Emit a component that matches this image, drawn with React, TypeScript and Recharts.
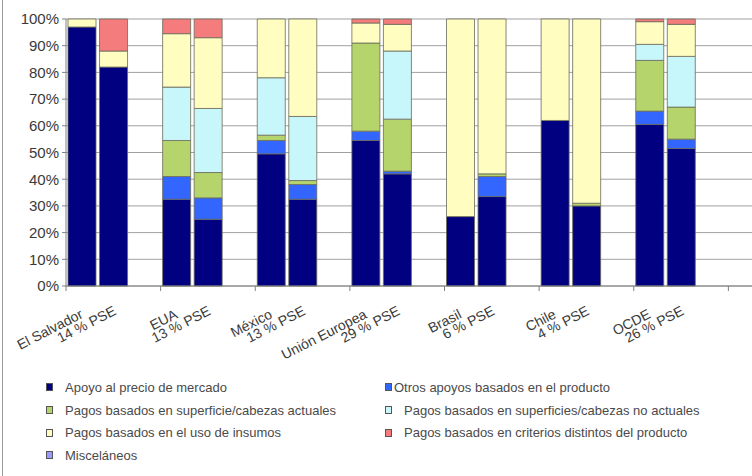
import React from 'react';
import { BarChart, Bar, XAxis, YAxis, CartesianGrid } from 'recharts';

// orden de barras: [periodo 1, periodo 2] por país
const countries = ['El Salvador', 'EUA', 'México', 'Unión Europea', 'Brasil', 'Chile', 'OCDE'];
const pseLabels = ['14 % PSE', '13 % PSE', '13 % PSE', '29 % PSE', '6 % PSE', '4 % PSE', '26 % PSE'];

const apoyoPrecio = [97, 82, 32.5, 25, 49.5, 32.5, 54.5, 42, 26, 33.5, 62, 30, 60.5, 51.5];
const otrosApoyos = [0, 0, 8.5, 8, 5, 5.5, 3.5, 1, 0, 7.5, 0, 0, 5, 3.5];
const superficieActual = [0, 0, 13.5, 9.5, 2, 1.5, 33, 19.5, 0, 1, 0, 1, 19, 12];
const superficieNoActual = [0, 0, 20, 24, 21.5, 24, 0, 25.5, 0, 0, 0, 0, 6, 19];
const usoInsumos = [3, 6, 20, 26.5, 22, 36.5, 7.5, 10, 74, 58, 38, 69, 8.5, 12];
const criteriosDistintos = [0, 12, 5.5, 7, 0, 0, 1.5, 2, 0, 0, 0, 0, 1, 2];
const miscelaneos = [0, 0, 0, 0, 0, 0, 0, 0, 0, 0, 0, 0, 0, 0];

const yTicks = [0, 10, 20, 30, 40, 50, 60, 70, 80, 90, 100];

const series = [
  { key: 'apoyo', name: 'Apoyo al precio de mercado', color: '#000080', values: apoyoPrecio },
  { key: 'otros', name: 'Otros apoyos basados en el producto', color: '#3366FF', values: otrosApoyos },
  { key: 'actual', name: 'Pagos basados en superficie/cabezas actuales', color: '#B5D46C', values: superficieActual },
  { key: 'noActual', name: 'Pagos basados en superficies/cabezas no actuales', color: '#C8F7FB', values: superficieNoActual },
  { key: 'insumos', name: 'Pagos basados en el uso de insumos', color: '#FFFDC0', values: usoInsumos },
  { key: 'criterios', name: 'Pagos basados en criterios distintos del producto', color: '#F47C7C', values: criteriosDistintos },
  { key: 'misc', name: 'Misceláneos', color: '#9999FF', values: miscelaneos },
];

// 3 columnas por grupo (2 barras + hueco), más un grupo vacío al final (recortado)
const rows: any[] = [];
for (let g = 0; g < countries.length + 1; g++) {
  for (let k = 0; k < 3; k++) {
    const row: any = { id: `${g}-${k}`, group: g };
    if (g < countries.length && k < 2) {
      series.forEach((s) => {
        row[s.key] = s.values[g * 2 + k];
      });
    }
    rows.push(row);
  }
}

const CHART_W = 830;
const CHART_H = 476;
const Y_W = 66;
const M_RIGHT = 7;
const BAND = (CHART_W - Y_W - M_RIGHT) / rows.length;
const FONT = '"Liberation Sans", Arial, sans-serif';

function GroupTick(props: any) {
  const { x, y, index } = props;
  if (index % 3 !== 0) return null;
  const g = Math.floor(index / 3);
  const left = x - BAND / 2;
  return (
    <g>
      <line x1={left} y1={y} x2={left} y2={y + 5} stroke="#808080" />
      {g < countries.length && (
        <g transform={`translate(${left + 51}, ${y + 28}) rotate(-27)`} fontFamily={FONT} fontSize={14} fill="#3a3a3a">
          <text x={-31} y={-12} textAnchor="end">{countries[g]}</text>
          <text x={0} y={0} textAnchor="end">{pseLabels[g]}</text>
        </g>
      )}
    </g>
  );
}

const legendRows = [
  ['apoyo', 'otros'],
  ['actual', 'noActual'],
  ['insumos', 'criterios'],
  ['misc'],
];

function ChartLegend() {
  return (
    <div style={{ position: 'absolute', left: 0, top: 376, width: 752, fontFamily: FONT, fontSize: 13, color: '#4a4a4a' }}>
      {legendRows.map((r, i) =>
        r.map((k, j) => {
          const s = series.find((e) => e.key === k)!;
          return (
            <div key={k} style={{ display: 'flex', alignItems: 'center', position: 'absolute', left: j === 0 ? 46 : 385, top: i * 22.7, height: 22.7 }}>
              <span style={{ width: 5, height: 6, background: s.color, border: '1px solid #555', display: 'inline-block' }} />
              <span style={{ marginLeft: j === 0 || i > 0 ? 12 : 2 }}>{s.name}</span>
            </div>
          );
        })
      )}
    </div>
  );
}

export default function App() {
  return (
    <div style={{ position: 'absolute', left: 0, top: 0, width: 752, height: 476, overflow: 'hidden', background: '#fff' }}>
      <div style={{ position: 'absolute', left: 2, top: 0, width: 1, height: 476, background: '#9a9a9a' }} />
      <BarChart
        width={CHART_W}
        height={CHART_H}
        data={rows}
        margin={{ top: 19, right: M_RIGHT, left: 0, bottom: 130 }}
        barCategoryGap={2}
      >
        <CartesianGrid vertical={false} stroke="#a0a0a0" />
        <XAxis
          dataKey="id"
          interval={0}
          tickLine={false}
          tickSize={0}
          tickMargin={0}
          height={60}
          axisLine={{ stroke: '#808080' }}
          tick={<GroupTick />}
        />
        <YAxis
          width={Y_W}
          domain={[0, 100]}
          ticks={yTicks}
          tickFormatter={(v: number) => `${v}%`}
          tickSize={4}
          tickMargin={3}
          axisLine={{ stroke: '#808080' }}
          tickLine={{ stroke: '#808080' }}
          tick={{ fontSize: 15, fill: '#3a3a3a', fontFamily: FONT }}
        />
        {series.map((s) => (
          <Bar
            key={s.key}
            dataKey={s.key}
            name={s.name}
            stackId="a"
            fill={s.color}
            stroke="#6b6b5a"
            strokeWidth={0.8}
            isAnimationActive={false}
          />
        ))}
      </BarChart>
      <ChartLegend />
    </div>
  );
}
